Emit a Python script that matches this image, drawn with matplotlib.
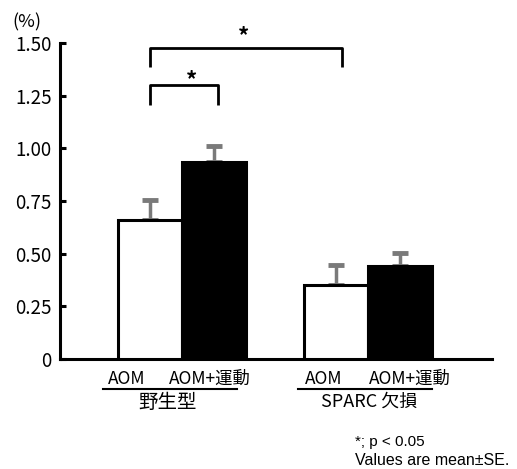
import matplotlib
matplotlib.use("Agg")
import matplotlib.pyplot as plt

plt.rcParams['font.family'] = ['Noto Sans CJK JP', 'DejaVu Sans']

# data
bar_pos = [0.0, 1.0, 2.91, 3.91]
bar_vals = [0.66, 0.935, 0.35, 0.44]
bar_err = [0.095, 0.075, 0.095, 0.065]
bar_colors = ['white', 'black', 'white', 'black']
yticks = [0, 0.25, 0.5, 0.75, 1.0, 1.25, 1.5]
ytick_labels = ['0', '0.25', '0.50', '0.75', '1.00', '1.25', '1.50']
group_names = ['野生型', 'SPARC 欠損']
cond_names = ['AOM', 'AOM+運動']

W, H = 517, 469
fig = plt.figure(figsize=(W / 100, H / 100), dpi=100)
ax = fig.add_axes([0.116, 0.2345, 0.836, 0.6735])

ax.bar(bar_pos, bar_vals, width=1.0, color=bar_colors, edgecolor='black',
       linewidth=2.2, zorder=3)
ax.errorbar(bar_pos, bar_vals, yerr=[[0] * 4, bar_err], fmt='none',
            ecolor='#7a7a7a', elinewidth=2.5, capsize=6, capthick=3.5, zorder=2)

ax.set_xlim(-1.40, 5.35)
ax.set_ylim(0, 1.5)
ax.set_yticks(yticks)
ax.set_yticklabels(ytick_labels, fontsize=13.5)
ax.set_xticks([])
ax.tick_params(axis='y', direction='in', length=4, width=2.2, pad=6)
for s in ['top', 'right']:
    ax.spines[s].set_visible(False)
for s in ['left', 'bottom']:
    ax.spines[s].set_linewidth(2.2)

# significance brackets
def bracket(x1, x2, y, h, sx, sy):
    ax.plot([x1, x1, x2, x2], [y - h, y, y, y - h], color='black', lw=2,
            clip_on=False, solid_capstyle='butt')
    ax.text(sx, sy, '*', ha='center', va='center', fontsize=16,
            fontweight='bold', clip_on=False)

bracket(bar_pos[0], bar_pos[1] + 0.07, 1.30, 0.095, 0.65, 1.32)
bracket(bar_pos[0], bar_pos[2] + 0.1, 1.476, 0.09, 1.47, 1.53)

fig.text(12 / W, 1 - 22 / H, '(%)', fontsize=13, ha='left', va='center')

# x labels (pixel centres)
def ftext(px, py, s, size):
    fig.text(px / W, 1 - py / H, s, fontsize=size, ha='center', va='center')

ftext(127, 379, cond_names[0], 12.5)
ftext(210, 379, cond_names[1], 12.5)
ftext(168, 402, group_names[0], 14)
ftext(324, 379, cond_names[0], 12.5)
ftext(410, 379, cond_names[1], 12.5)
ftext(369, 402, group_names[1], 13)
for x0, x1 in [(103, 237), (298, 432)]:
    fig.add_artist(plt.Line2D([x0 / W, x1 / W], [1 - 389 / H] * 2,
                              color='black', lw=1.5))

fig.text(355 / W, 1 - 442 / H, '*; p < 0.05', fontsize=11, ha='left',
         va='center', family=['Liberation Sans', 'DejaVu Sans'])
fig.text(355 / W, 1 - 460 / H, 'Values are mean\u00b1SE.', fontsize=11.5,
         ha='left', va='center', family=['Liberation Sans', 'DejaVu Sans'])

fig.savefig('out.png', dpi=100)
